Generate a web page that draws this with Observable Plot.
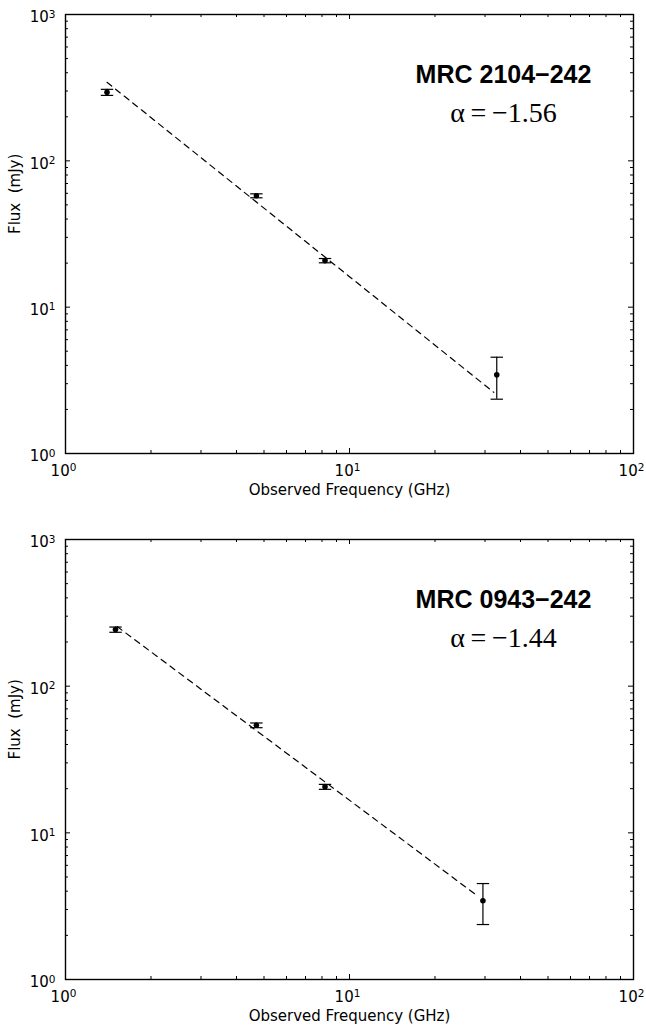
<!DOCTYPE html>
<html>
<head>
<meta charset="utf-8">
<script src="https://cdn.jsdelivr.net/npm/d3@7"></script>
<script src="https://cdn.jsdelivr.net/npm/@observablehq/plot@0.6"></script>
<style>
  html, body { margin: 0; padding: 0; background: #fff; }
  #chart svg { display: block; }
</style>
</head>
<body>
<div id="chart"></div>
<script>
// ---- data ----
const sourceNames = ["MRC 2104\u2212242", "MRC 0943\u2212242"];
const alphaLabels = ["\u03b1\u2009=\u2009\u22121.56", "\u03b1\u2009=\u2009\u22121.44"];

const freqA = [1.4, 4.7, 8.2, 33.0];
const fluxA = [294, 57.7, 20.8, 3.45];
const errA  = [14, 1.8, 0.7, 1.1];
const fitFreqA = [1.4, 32.2];
const fitFluxA = [344, 2.62];

const freqB = [1.5, 4.7, 8.2, 29.5];
const fluxB = [243, 54.1, 20.6, 3.44];
const errB  = [10, 2.0, 0.8, 1.07];
const fitFreqB = [1.52, 28.2];
const fitFluxB = [255, 3.72];

const xMajor = [1, 10, 100];
const yMajor = [1, 10, 100, 1000];
const xLabel = "Observed Frequency (GHz)";
const yLabel = "Flux\u00a0 (mJy)";

// ---- helpers ----
const fmtPow = d => "10^" + String(Math.round(Math.log10(d)));
function minors(decades) {
  const out = [];
  for (let i = 0; i < decades.length - 1; i++)
    for (let k = 2; k <= 9; k++) out.push(decades[i] * k);
  return out;
}
const capSymbol = {
  draw(ctx, size) {
    const w = Math.sqrt(size);
    ctx.moveTo(-w, 0);
    ctx.lineTo(w, 0);
  }
};

const W = 646, ML = 65, MR = 13;
const FONT = "DejaVu Sans, sans-serif";

function panel({freq, flux, err, fitFreq, fitFlux, name, alpha, height, marginTop, marginBottom}) {
  const fw = W - ML - MR;
  const fh = height - marginTop - marginBottom;
  const pts = freq.map((f, i) => ({f, s: flux[i], lo: flux[i] - err[i], hi: flux[i] + err[i]}));
  const fit = fitFreq.map((f, i) => ({f, s: fitFlux[i]}));
  const xMin = minors(xMajor), yMin = minors(yMajor);
  const svg = Plot.plot({
    width: W, height, marginLeft: ML, marginRight: MR, marginTop, marginBottom,
    style: {fontFamily: FONT, background: "white", overflow: "visible"},
    x: {type: "log", domain: [1, 100], axis: null},
    y: {type: "log", domain: [1, 1000], axis: null},
    marks: [
      // inward ticks on all four sides
      Plot.tickX(xMajor, {x: d => d, insetTop: fh - 5, stroke: "black"}),
      Plot.tickX(xMajor, {x: d => d, insetBottom: fh - 5, stroke: "black"}),
      Plot.tickX(xMin, {x: d => d, insetTop: fh - 3, stroke: "black"}),
      Plot.tickX(xMin, {x: d => d, insetBottom: fh - 3, stroke: "black"}),
      Plot.tickY(yMajor, {y: d => d, insetRight: fw - 5, stroke: "black"}),
      Plot.tickY(yMajor, {y: d => d, insetLeft: fw - 5, stroke: "black"}),
      Plot.tickY(yMin, {y: d => d, insetRight: fw - 3, stroke: "black"}),
      Plot.tickY(yMin, {y: d => d, insetLeft: fw - 3, stroke: "black"}),
      // fit line
      Plot.line(fit, {x: "f", y: "s", stroke: "black", strokeWidth: 1.2, strokeDasharray: "6,5"}),
      // error bars
      Plot.ruleX(pts, {x: "f", y1: "lo", y2: "hi", stroke: "black", strokeWidth: 1.2}),
      Plot.dot(pts, {x: "f", y: "lo", symbol: capSymbol, r: 3.5, stroke: "black", strokeWidth: 1.2, fill: "none"}),
      Plot.dot(pts, {x: "f", y: "hi", symbol: capSymbol, r: 3.5, stroke: "black", strokeWidth: 1.2, fill: "none"}),
      Plot.dot(pts, {x: "f", y: "s", r: 2.8, fill: "black", stroke: "none"}),
      Plot.frame({stroke: "black", strokeWidth: 1.4}),
      // tick labels
      Plot.text(xMajor, {x: d => d, text: fmtPow, frameAnchor: "bottom", dy: 22, dx: -2, lineAnchor: "bottom", fontSize: 15, fill: "black"}),
      Plot.text(yMajor, {y: d => d, text: fmtPow, frameAnchor: "left", dx: -10, dy: 3, textAnchor: "end", fontSize: 15, fill: "black"}),
      // axis labels
      Plot.text([xLabel], {frameAnchor: "bottom", dy: 41, lineAnchor: "bottom", fontSize: 15, fill: "black"}),
      Plot.text([yLabel], {frameAnchor: "left", dx: -50, rotate: -90, fontSize: 15, fill: "black"}),
      // annotation
      Plot.text([name], {frameAnchor: "top", dx: 154, dy: 68, lineAnchor: "bottom", fontSize: 25, fontWeight: "bold", fontFamily: "Liberation Sans, Arial, sans-serif", fill: "black"}),
      Plot.text([alpha], {frameAnchor: "top", dx: 154, dy: 107, lineAnchor: "bottom", fontSize: 28, fontFamily: "Liberation Serif, Times New Roman, serif", fill: "black"})
    ]
  });
  // render "10^n" as 10 with a real superscript tspan
  svg.querySelectorAll("text").forEach(t => {
    const m = /^10\^(\d)$/.exec(t.textContent);
    if (!m) return;
    t.textContent = "10";
    const s = document.createElementNS("http://www.w3.org/2000/svg", "tspan");
    s.setAttribute("dy", "-0.45em");
    s.setAttribute("font-size", "0.7em");
    s.textContent = m[1];
    t.appendChild(s);
  });
  return svg;
}

const root = document.getElementById("chart");
root.append(panel({freq: freqA, flux: fluxA, err: errA, fitFreq: fitFreqA, fitFlux: fitFluxA,
  name: sourceNames[0], alpha: alphaLabels[0], height: 513, marginTop: 14, marginBottom: 60}));
root.append(panel({freq: freqB, flux: fluxB, err: errB, fitFreq: fitFreqB, fitFlux: fitFluxB,
  name: sourceNames[1], alpha: alphaLabels[1], height: 514, marginTop: 26, marginBottom: 48}));
</script>
</body>
</html>
